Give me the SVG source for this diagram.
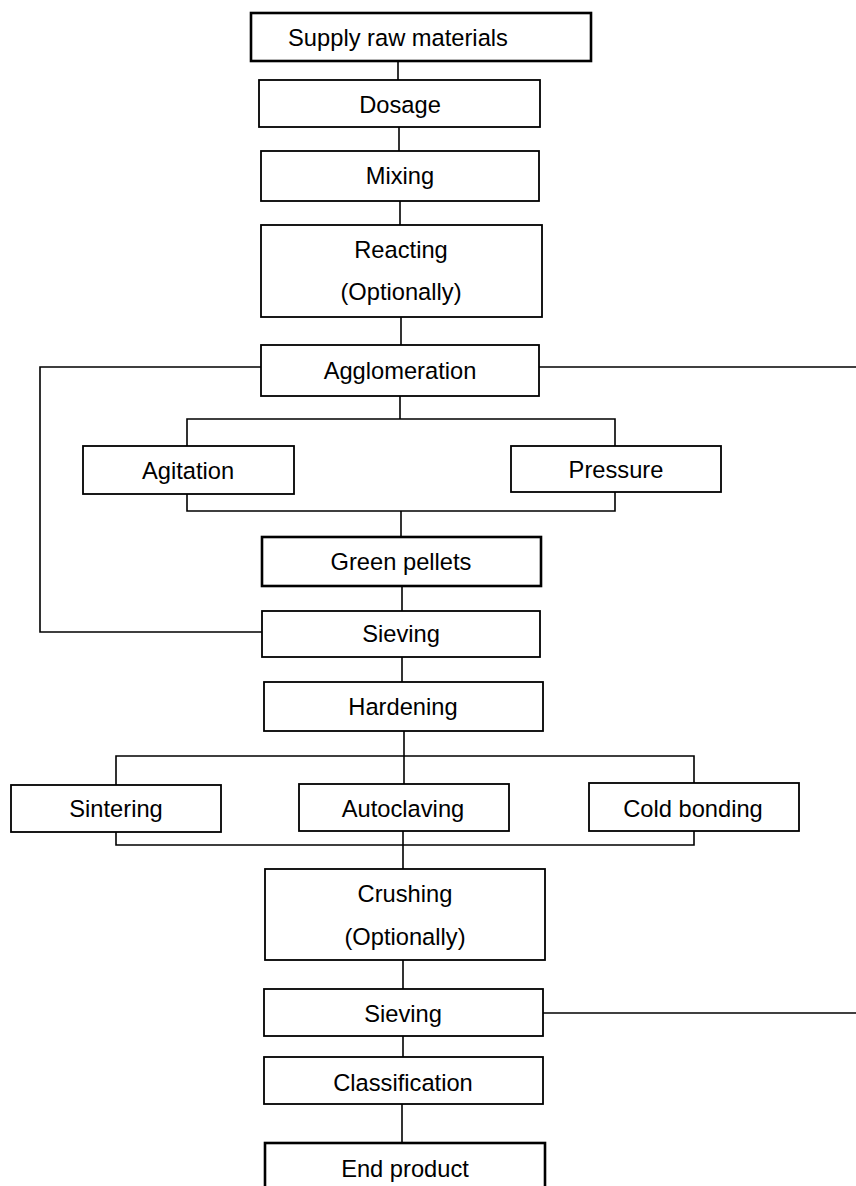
<svg xmlns="http://www.w3.org/2000/svg" width="856" height="1186" viewBox="0 0 856 1186">
<style>
.box{fill:#fff;stroke:#000;stroke-width:1.8}
.thick{stroke-width:2.6}
.lbl{font-family:"Liberation Sans",Arial,sans-serif;font-size:23.7px;fill:#000;text-anchor:middle}
#connectors line,#connectors polyline{stroke:#000;stroke-width:1.6;fill:none}
</style>
<rect width="856" height="1186" fill="#fff"/>
<g id="connectors">
<line x1="398" y1="61" x2="398" y2="80"/>
<line x1="399" y1="127" x2="399" y2="151"/>
<line x1="400" y1="201" x2="400" y2="225"/>
<line x1="401" y1="317" x2="401" y2="345"/>
<polyline points="261,367 40,367 40,632 262,632"/>
<line x1="539" y1="367" x2="856" y2="367"/>
<line x1="400" y1="396" x2="400" y2="419"/>
<polyline points="187,446 187,419 615,419 615,446"/>
<polyline points="187,494 187,511 615,511 615,492"/>
<line x1="401" y1="511" x2="401" y2="537"/>
<line x1="402" y1="586" x2="402" y2="611"/>
<line x1="402" y1="657" x2="402" y2="682"/>
<line x1="404" y1="731" x2="404" y2="784"/>
<polyline points="116,785 116,756 694,756 694,783"/>
<polyline points="116,832 116,845 694,845 694,831"/>
<line x1="403" y1="831" x2="403" y2="869"/>
<line x1="403" y1="960" x2="403" y2="989"/>
<line x1="543" y1="1013" x2="856" y2="1013"/>
<line x1="403" y1="1036" x2="403" y2="1057"/>
<line x1="402" y1="1104" x2="402" y2="1143"/>
</g>
<g id="supply"><rect class="box thick" x="251" y="13" width="340" height="48"/><text class="lbl" x="398" y="46">Supply raw materials</text></g>
<g id="dosage"><rect class="box" x="259" y="80" width="281" height="47"/><text class="lbl" x="400" y="113">Dosage</text></g>
<g id="mixing"><rect class="box" x="261" y="151" width="278" height="50"/><text class="lbl" x="400" y="184">Mixing</text></g>
<g id="reacting"><rect class="box" x="261" y="225" width="281" height="92"/><text class="lbl" x="401" y="258">Reacting</text><text class="lbl" x="401" y="300">(Optionally)</text></g>
<g id="agglomeration"><rect class="box" x="261" y="345" width="278" height="51"/><text class="lbl" x="400" y="379">Agglomeration</text></g>
<g id="agitation"><rect class="box" x="83" y="446" width="211" height="48"/><text class="lbl" x="188" y="479">Agitation</text></g>
<g id="pressure"><rect class="box" x="511" y="446" width="210" height="46"/><text class="lbl" x="616" y="478">Pressure</text></g>
<g id="green-pellets"><rect class="box thick" x="262" y="537" width="279" height="49"/><text class="lbl" x="401" y="570">Green pellets</text></g>
<g id="sieving1"><rect class="box" x="262" y="611" width="278" height="46"/><text class="lbl" x="401" y="642">Sieving</text></g>
<g id="hardening"><rect class="box" x="264" y="682" width="279" height="49"/><text class="lbl" x="403" y="715">Hardening</text></g>
<g id="sintering"><rect class="box" x="11" y="785" width="210" height="47"/><text class="lbl" x="116" y="817">Sintering</text></g>
<g id="autoclaving"><rect class="box" x="299" y="784" width="210" height="47"/><text class="lbl" x="403" y="817">Autoclaving</text></g>
<g id="cold-bonding"><rect class="box" x="589" y="783" width="210" height="48"/><text class="lbl" x="693" y="817">Cold bonding</text></g>
<g id="crushing"><rect class="box" x="265" y="869" width="280" height="91"/><text class="lbl" x="405" y="902">Crushing</text><text class="lbl" x="405" y="945">(Optionally)</text></g>
<g id="sieving2"><rect class="box" x="264" y="989" width="279" height="47"/><text class="lbl" x="403" y="1022">Sieving</text></g>
<g id="classification"><rect class="box" x="264" y="1057" width="279" height="47"/><text class="lbl" x="403" y="1091">Classification</text></g>
<g id="end-product"><rect class="box thick" x="265" y="1143" width="280" height="60"/><text class="lbl" x="405" y="1177">End product</text></g>
</svg>
